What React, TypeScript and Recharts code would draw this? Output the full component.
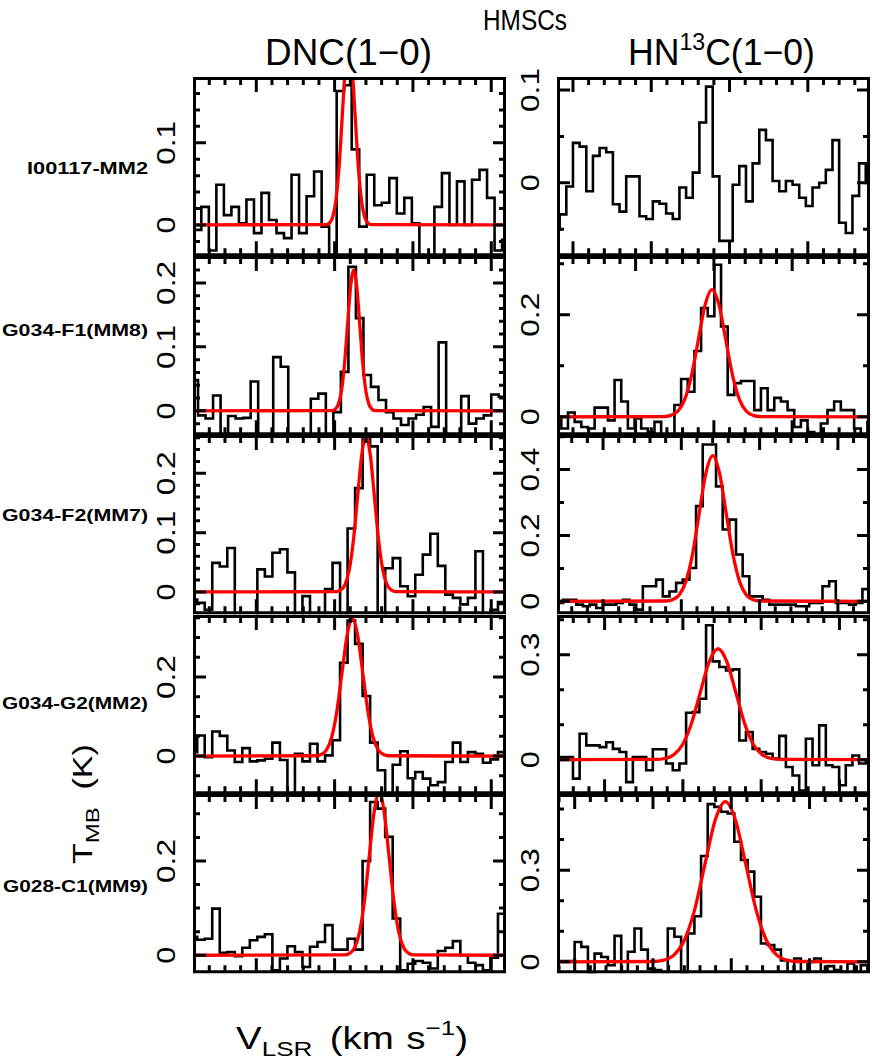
import React from 'react';
import { LineChart, Line, XAxis, YAxis } from 'recharts';

// ---------------- data ----------------
const SOURCES = ['I00117-MM2', 'G034-F1(MM8)', 'G034-F2(MM7)', 'G034-G2(MM2)', 'G028-C1(MM9)'];
const GROUP_TITLE = 'HMSCs';

// channel widths (km/s) and first-channel velocities
const DV_DNC = 0.48;
const DV_HN13C = 0.425;
const DNC_V0 = [-13.749, -13.96, -14.012, -14.013, -14.013];
const HN13C_V0 = [-11.063, -14.956, -13.195, -13.508, -11.492];

// velocity windows of each panel
const DNC_VRANGE = [[-14.04, 5.94], [-14.04, 5.94], [-14.04, 5.94], [-14.04, 5.94], [-14.04, 5.94]];
const HN13C_VRANGE = [[-11.02, 8.97], [-15.02, 4.97], [-12.94, 7.05], [-13.04, 6.95], [-11.13, 8.86]];

// T_MB windows
const DNC_TRANGE = [[-0.038, 0.18], [-0.038, 0.242], [-0.0375, 0.2646], [-0.0965, 0.357], [-0.038, 0.342]];
const HN13C_TRANGE = [[-0.079, 0.114], [-0.036, 0.315], [-0.039, 0.505], [-0.0985, 0.4135], [-0.037, 0.549]];

// labelled ticks and minor step
const DNC_TMAJOR = [[0, 0.1], [0, 0.1, 0.2], [0, 0.1, 0.2], [0, 0.2], [0, 0.2]];
const DNC_TSTEP = [0.02, 0.02, 0.02, 0.05, 0.05];
const HN13C_TMAJOR = [[0, 0.1], [0, 0.2], [0, 0.2, 0.4], [0, 0.3], [0, 0.3]];
const HN13C_TSTEP = [0.05, 0.1, 0.1, 0.1, 0.1];

// spectra (K), one value per channel
const DNC_I00117 = [-0.006, 0.022, -0.031, 0.049, 0.012, 0.022, 0.002, 0.031, -0.01, 0.039, 0.006, -0.01, -0.016, 0.061, -0.01, 0.035, 0.065, -0.002, -0.045, 0.163, 0.17, 0.092, -0.002, 0.061, 0.024, 0.027, 0.057, 0.014, 0.033, 0.002, -0.045, -0.045, 0.022, 0.063, 0.0, 0.053, 0.0, 0.055, 0.067, 0.033, -0.031, -0.018];
const DNC_G034F1 = [0.048, -0.007, -0.012, 0.024, -0.038, -0.008, -0.012, -0.011, 0.046, -0.04, -0.04, 0.084, 0.069, -0.04, -0.04, -0.04, 0.019, 0.027, -0.04, -0.002, 0.061, 0.225, 0.145, 0.056, 0.0375, 0.017, -0.002, -0.012, -0.022, -0.012, -0.006, 0.006, -0.025, 0.107, -0.04, -0.04, 0.023, -0.02, -0.012, -0.007, 0.0255, 0.022, 0.022];
const DNC_G034F2 = [-0.013, -0.0185, -0.03, 0.049, 0.043, 0.074, -0.045, -0.045, -0.045, 0.038, 0.026, 0.066, 0.072, 0.033, -0.045, -0.007, -0.045, -0.045, 0.005, 0.049, -0.04, 0.107, 0.175, 0.262, 0.2455, -0.045, 0.04, 0.057, 0.0096, -0.0073, 0.029, 0.063, 0.098, 0.044, -0.0045, -0.01, -0.021, -0.01, 0.0685, -0.045, -0.03, -0.017];
const DNC_G034G2 = [0.01, 0.052, -0.003, 0.062, 0.051, 0.014, -0.015, 0.02, -0.0135, -0.011, -0.007, 0.034, -0.01, -0.1, 0.006, -0.0135, 0.031, -0.0135, 0.0017, 0.04, 0.236, 0.343, 0.284, 0.152, 0.034, -0.036, -0.1, -0.022, 0.012, -0.056, -0.0405, -0.057, -0.074, -0.066, -0.015, 0.034, -0.015, 0.01, 0.006, -0.017, -0.0085, 0.01];
const DNC_G028C1 = [0.039, 0.033, 0.035, 0.099, 0.005, 0.007, -0.002, 0.016, 0.032, 0.039, 0.0445, -0.032, -0.007, 0.019, 0.007, -0.025, 0.018, 0.028, 0.064, 0.012, 0.012, 0.035, 0.012, 0.2, 0.325, 0.311, 0.251, 0.078, -0.032, -0.018, -0.012, -0.016, -0.028, 0.009, 0.016, 0.03, 0.0, -0.016, -0.021, -0.032, -0.005, 0.088];

const HN13C_I00117 = [-0.05, -0.034, -0.004, 0.043, 0.039, -0.009, 0.029, 0.0375, 0.033, -0.023, -0.031, 0.007, 0.007, -0.036, -0.039, -0.02, -0.0225, -0.033, -0.039, -0.005, -0.016, 0.011, 0.065, 0.1036, 0.007, -0.0625, -0.0625, -0.002, 0.018, -0.02, 0.021, 0.057, 0.046, 0.002, -0.009, 0.002, -0.002, -0.016, -0.025, -0.005, 0.0, 0.014, 0.046, -0.043, -0.054, -0.014, 0.021, 0.0];
const HN13C_G034F1 = [0.0, -0.023, 0.0085, -0.01, -0.02, -0.023, 0.018, 0.018, -0.007, 0.072, 0.03, -0.023, -0.003, -0.023, -0.03, -0.01, -0.036, -0.036, 0.023, 0.074, 0.049, 0.129, 0.213, 0.197, 0.298, 0.177, 0.043, 0.066, 0.07, 0.07, 0.013, 0.056, 0.013, 0.037, 0.03, 0.013, -0.02, -0.007, -0.03, -0.036, -0.013, 0.013, 0.03, 0.013, 0.013, -0.023, -0.036, -0.01];
const HN13C_G034F2 = [-0.005, -0.005, 0.005, 0.005, -0.01, -0.015, -0.01, -0.02, -0.01, -0.01, -0.005, 0.005, -0.01, -0.025, 0.046, 0.046, 0.066, 0.015, 0.03, 0.056, 0.066, 0.101, 0.289, 0.476, 0.476, 0.349, 0.218, 0.248, 0.142, 0.076, 0.015, 0.015, 0.005, -0.01, -0.01, -0.01, -0.01, -0.015, -0.015, -0.005, -0.005, 0.046, 0.061, -0.005, -0.005, -0.01, -0.005, 0.037, -0.005];
const HN13C_G034G2 = [0.0076, 0.0076, 0.0076, 0.0076, -0.054, 0.074, 0.041, 0.041, 0.036, 0.05, 0.031, 0.022, -0.064, 0.0076, 0.0076, -0.03, 0.03, 0.03, -0.011, -0.03, -0.011, 0.134, 0.136, 0.174, 0.384, 0.281, 0.265, 0.255, 0.258, 0.055, 0.079, 0.031, 0.022, 0.017, 0.003, 0.068, -0.021, -0.045, -0.088, 0.06, -0.016, 0.098, -0.016, -0.021, -0.073, -0.016, 0.012, -0.011, -0.007];
const HN13C_G028C1 = [0.003, 0.003, 0.003, 0.003, 0.065, 0.049, -0.036, 0.027, 0.016, -0.011, 0.085, -0.033, 0.033, 0.109, 0.04, -0.022, -0.027, -0.033, 0.109, 0.082, -0.036, 0.093, 0.149, 0.346, 0.516, 0.507, 0.491, 0.485, 0.393, 0.333, 0.295, 0.213, 0.06, 0.055, 0.04, 0.005, -0.033, 0.011, -0.033, 0.0, 0.011, -0.033, -0.014, -0.027, -0.033, -0.005, -0.033, -0.011, -0.033];

const FIT_DNC_I00117_V = [-5.529, -5.325, -5.121, -4.917, -4.713, -4.509, -4.305, -4.101, -3.897, -3.693, -3.489, -3.285, -3.081, -2.877, -2.673];
const FIT_DNC_I00117_T = [0.0005, 0.0024, 0.0097, 0.0298, 0.0714, 0.1334, 0.1942, 0.22, 0.1942, 0.1334, 0.0714, 0.0298, 0.0097, 0.0024, 0.0005];
const FIT_DNC_G034F1_V = [-5.162, -4.965, -4.768, -4.571, -4.374, -4.178, -3.981, -3.784, -3.587, -3.39, -3.194, -2.997, -2.8, -2.603, -2.406];
const FIT_DNC_G034F1_T = [0.0005, 0.0024, 0.0097, 0.0298, 0.0714, 0.1334, 0.1942, 0.22, 0.1942, 0.1334, 0.0714, 0.0298, 0.0097, 0.0024, 0.0005];
const FIT_DNC_G034F2_V = [-4.894, -4.623, -4.352, -4.081, -3.81, -3.538, -3.267, -2.996, -2.725, -2.454, -2.182, -1.911, -1.64, -1.369, -1.098];
const FIT_DNC_G034F2_T = [0.0006, 0.0029, 0.0115, 0.0354, 0.0851, 0.1589, 0.2312, 0.262, 0.2312, 0.1589, 0.0851, 0.0354, 0.0115, 0.0029, 0.0006];
const FIT_DNC_G034G2_V = [-6.184, -5.853, -5.522, -5.191, -4.86, -4.528, -4.197, -3.866, -3.535, -3.204, -2.872, -2.541, -2.21, -1.879, -1.548];
const FIT_DNC_G034G2_T = [0.0008, 0.0039, 0.0153, 0.0471, 0.113, 0.2111, 0.3071, 0.348, 0.3071, 0.2111, 0.113, 0.0471, 0.0153, 0.0039, 0.0008];
const FIT_DNC_G028C1_V = [-4.375, -4.058, -3.741, -3.424, -3.108, -2.791, -2.474, -2.157, -1.84, -1.523, -1.207, -0.89, -0.573, -0.256, 0.061];
const FIT_DNC_G028C1_T = [0.0008, 0.0038, 0.0151, 0.0467, 0.112, 0.2092, 0.3045, 0.345, 0.3045, 0.2092, 0.112, 0.0467, 0.0151, 0.0038, 0.0008];

const FIT_HN13C_G034F1_V = [-8.181, -7.744, -7.306, -6.868, -6.43, -5.993, -5.555, -5.117, -4.679, -4.242, -3.804, -3.366, -2.928, -2.49, -2.053];
const FIT_HN13C_G034F1_T = [0.0005, 0.0028, 0.0109, 0.0337, 0.0809, 0.151, 0.2197, 0.249, 0.2197, 0.151, 0.0809, 0.0337, 0.0109, 0.0028, 0.0005];
const FIT_HN13C_G034F2_V = [-6.0, -5.571, -5.141, -4.712, -4.283, -3.854, -3.424, -2.995, -2.566, -2.137, -1.707, -1.278, -0.849, -0.419, 0.01];
const FIT_HN13C_G034F2_T = [0.001, 0.0049, 0.0194, 0.0599, 0.1437, 0.2684, 0.3905, 0.4425, 0.3905, 0.2684, 0.1437, 0.0599, 0.0194, 0.0049, 0.001];
const FIT_HN13C_G034G2_V = [-6.728, -6.16, -5.593, -5.025, -4.458, -3.89, -3.323, -2.755, -2.188, -1.62, -1.053, -0.485, 0.083, 0.65, 1.218];
const FIT_HN13C_G034G2_T = [0.0007, 0.0035, 0.0139, 0.0429, 0.1029, 0.1923, 0.2798, 0.317, 0.2798, 0.1923, 0.1029, 0.0429, 0.0139, 0.0035, 0.0007];
const FIT_HN13C_G028C1_V = [-4.96, -4.305, -3.651, -2.996, -2.342, -1.687, -1.033, -0.378, 0.277, 0.931, 1.586, 2.24, 2.895, 3.549, 4.204];
const FIT_HN13C_G028C1_T = [0.0012, 0.0058, 0.023, 0.0709, 0.1701, 0.3178, 0.4624, 0.524, 0.4624, 0.3178, 0.1701, 0.0709, 0.023, 0.0058, 0.0012];

const DNC_SPECTRA = [DNC_I00117, DNC_G034F1, DNC_G034F2, DNC_G034G2, DNC_G028C1];
const HN13C_SPECTRA = [HN13C_I00117, HN13C_G034F1, HN13C_G034F2, HN13C_G034G2, HN13C_G028C1];
const DNC_FITS = [
  [FIT_DNC_I00117_V, FIT_DNC_I00117_T],
  [FIT_DNC_G034F1_V, FIT_DNC_G034F1_T],
  [FIT_DNC_G034F2_V, FIT_DNC_G034F2_T],
  [FIT_DNC_G034G2_V, FIT_DNC_G034G2_T],
  [FIT_DNC_G028C1_V, FIT_DNC_G028C1_T],
];
const HN13C_FITS = [
  null,
  [FIT_HN13C_G034F1_V, FIT_HN13C_G034F1_T],
  [FIT_HN13C_G034F2_V, FIT_HN13C_G034F2_T],
  [FIT_HN13C_G034G2_V, FIT_HN13C_G034G2_T],
  [FIT_HN13C_G028C1_V, FIT_HN13C_G028C1_T],
];

// ---------------- layout ----------------
const COL_X = [193, 557];
const PLOT_W = 313;
const TOP0 = 77;
const ROW_H = 179.2;
const AXIS_W = 44;
const PAD_R = 2;
const FONT = "'Liberation Sans', Arial, Helvetica, sans-serif";

function stepTicks(lo: number, hi: number, step: number) {
  const out: number[] = [];
  for (let k = Math.ceil(lo / step - 1e-9); k * step <= hi + 1e-9; k++) {
    out.push(Math.round(k * step * 10000) / 10000);
  }
  return out;
}

function Panel({ col, row, vRange, tRange, v0, dv, temps, fit, tMajor, tStep }: any) {
  const width = AXIS_W + PLOT_W + PAD_R;
  const height = ROW_H;
  const left = COL_X[col] - AXIS_W;
  const top = TOP0 + row * ROW_H;

  const spec = temps.map((t: number, i: number) => ({ v: v0 + (i - 0.5) * dv, t }));
  spec.push({ v: v0 + (temps.length - 0.5) * dv, t: temps[temps.length - 1] });

  const fitData = fit
    ? [{ v: vRange[0], t: 0 }, ...fit[0].map((v: number, i: number) => ({ v, t: fit[1][i] })), { v: vRange[1], t: 0 }]
    : null;

  const xTicks = stepTicks(vRange[0], vRange[1], 1);
  const yTicks = stepTicks(tRange[0], tRange[1], tStep);
  const vSpan = vRange[1] - vRange[0];
  const tSpan = tRange[1] - tRange[0];
  const isMajorT = (t: number) => tMajor.some((m: number) => Math.abs(m - t) < 1e-6);
  const isMajorV = (v: number) => Math.abs(v % 5) < 1e-6;

  // inward tick marks on all four sides, drawn as one broken polyline through the scales
  const tickPts: { v: number; t: number | null }[] = [];
  xTicks.forEach((v) => {
    const d = ((isMajorV(v) ? 15 : 8) / ROW_H) * tSpan;
    tickPts.push({ v, t: tRange[0] }, { v, t: tRange[0] + d }, { v, t: null });
    tickPts.push({ v, t: tRange[1] }, { v, t: tRange[1] - d }, { v, t: null });
  });
  yTicks.forEach((t) => {
    const d = ((isMajorT(t) ? 13 : 7) / PLOT_W) * vSpan;
    tickPts.push({ v: vRange[0], t }, { v: vRange[0] + d, t }, { v: vRange[0] + d, t: null });
    tickPts.push({ v: vRange[1], t }, { v: vRange[1] - d, t }, { v: vRange[1] - d, t: null });
  });
  // plot frame (clipped to the plot area, so only its inner half shows)
  const framePts = [
    { v: vRange[0], t: tRange[0] }, { v: vRange[1], t: tRange[0] }, { v: vRange[1], t: tRange[1] },
    { v: vRange[0], t: tRange[1] }, { v: vRange[0], t: tRange[0] },
  ];

  const renderY = (p: any) => {
    const { x, y, payload } = p;
    if (!isMajorT(payload.value)) return <g />;
    const label = payload.value === 0 ? '0' : String(payload.value);
    const lx = x - 18;
    return (
      <text x={lx} y={y} transform={`rotate(-90 ${lx} ${y})`} textAnchor="middle" fontSize={25}
        fontFamily={FONT} fill="#000" textLength={label.length === 1 ? 17 : 44} lengthAdjust="spacingAndGlyphs">
        {label}
      </text>
    );
  };

  return (
    <div style={{ position: 'absolute', left, top, width, height }}>
      <LineChart className="spec-panel" width={width} height={height} margin={{ top: 0, right: PAD_R, bottom: 0, left: 0 }}>
        <XAxis xAxisId="v" dataKey="v" type="number" domain={vRange} allowDataOverflow
          height={0} tick={false} axisLine={false} tickLine={false} />
        <YAxis yAxisId="t" type="number" domain={tRange} allowDataOverflow
          ticks={yTicks} interval={0} width={AXIS_W} tickSize={0} tickMargin={0}
          axisLine={false} tickLine={false} tick={renderY} />
        <Line xAxisId="v" yAxisId="t" data={spec} dataKey="t" type="stepAfter"
          stroke="#000" strokeWidth={2.6} dot={false} isAnimationActive={false} />
        {fitData && (
          <Line xAxisId="v" yAxisId="t" data={fitData} dataKey="t" type="monotone"
            stroke="#ff0000" strokeWidth={3.3} dot={false} isAnimationActive={false} />
        )}
        <Line xAxisId="v" yAxisId="t" data={tickPts} dataKey="t" type="linear"
          stroke="#000" strokeWidth={3} dot={false} isAnimationActive={false} />
        <Line xAxisId="v" yAxisId="t" data={framePts} dataKey="t" type="linear"
          stroke="#000" strokeWidth={6} strokeLinejoin="miter" dot={false} isAnimationActive={false} />
      </LineChart>
    </div>
  );
}

function Texts() {
  const rowY = [174, 336, 521, 709, 892];
  const rowLen = [121, 146, 146, 146, 145];
  return (
    <svg width={872} height={1062} style={{ position: 'absolute', left: 0, top: 0, pointerEvents: 'none' }}>
      <text x={483} y={30} fontSize={30} fontFamily={FONT} fill="#000" textLength={84} lengthAdjust="spacingAndGlyphs">{GROUP_TITLE}</text>
      <text x={265} y={65} fontSize={37} fontFamily={FONT} fill="#000" textLength={167} lengthAdjust="spacingAndGlyphs">DNC(1−0)</text>
      <text x={628} y={65} fontSize={37} fontFamily={FONT} fill="#000" textLength={187} lengthAdjust="spacingAndGlyphs">
        HN<tspan dy={-15} fontSize={24}>13</tspan><tspan dy={15} fontSize={37}>C(1−0)</tspan>
      </text>
      {SOURCES.map((s, i) => (
        <text key={s} x={148} y={rowY[i]} fontSize={17} fontWeight="bold" textAnchor="end" fontFamily={FONT}
          fill="#000" textLength={rowLen[i]} lengthAdjust="spacingAndGlyphs">{s}</text>
      ))}
      <text x={92} y={864} transform="rotate(-90 92 864)" fontSize={27} fontFamily={FONT} fill="#000"
        textLength={120} lengthAdjust="spacingAndGlyphs">
        T<tspan dy={7} fontSize={19}>MB</tspan><tspan dy={-7} dx={14} fontSize={27}>(K)</tspan>
      </text>
      <text x={236} y={1049} fontSize={31} fontFamily={FONT} fill="#000" textLength={232} lengthAdjust="spacingAndGlyphs">
        V<tspan dy={7} fontSize={21}>LSR</tspan><tspan dy={-7} dx={14} fontSize={31}>(km</tspan>
        <tspan dx={10} fontSize={31}>s</tspan>
        <tspan dy={-14} fontSize={21}>−1</tspan><tspan dy={14} fontSize={31}>)</tspan>
      </text>
    </svg>
  );
}

export default function App() {
  return (
    <div style={{ position: 'absolute', left: 0, top: 0, width: 872, height: 1062, background: '#fff' }}>
      <style>{'.spec-panel svg, svg.recharts-surface { overflow: visible; }'}</style>
      {SOURCES.map((s, r) => (
        <React.Fragment key={s}>
          <Panel col={0} row={r} vRange={DNC_VRANGE[r]} tRange={DNC_TRANGE[r]} v0={DNC_V0[r]} dv={DV_DNC}
            temps={DNC_SPECTRA[r]} fit={DNC_FITS[r]} tMajor={DNC_TMAJOR[r]} tStep={DNC_TSTEP[r]} />
          <Panel col={1} row={r} vRange={HN13C_VRANGE[r]} tRange={HN13C_TRANGE[r]} v0={HN13C_V0[r]} dv={DV_HN13C}
            temps={HN13C_SPECTRA[r]} fit={HN13C_FITS[r]} tMajor={HN13C_TMAJOR[r]} tStep={HN13C_TSTEP[r]} />
        </React.Fragment>
      ))}
      <Texts />
    </div>
  );
}
